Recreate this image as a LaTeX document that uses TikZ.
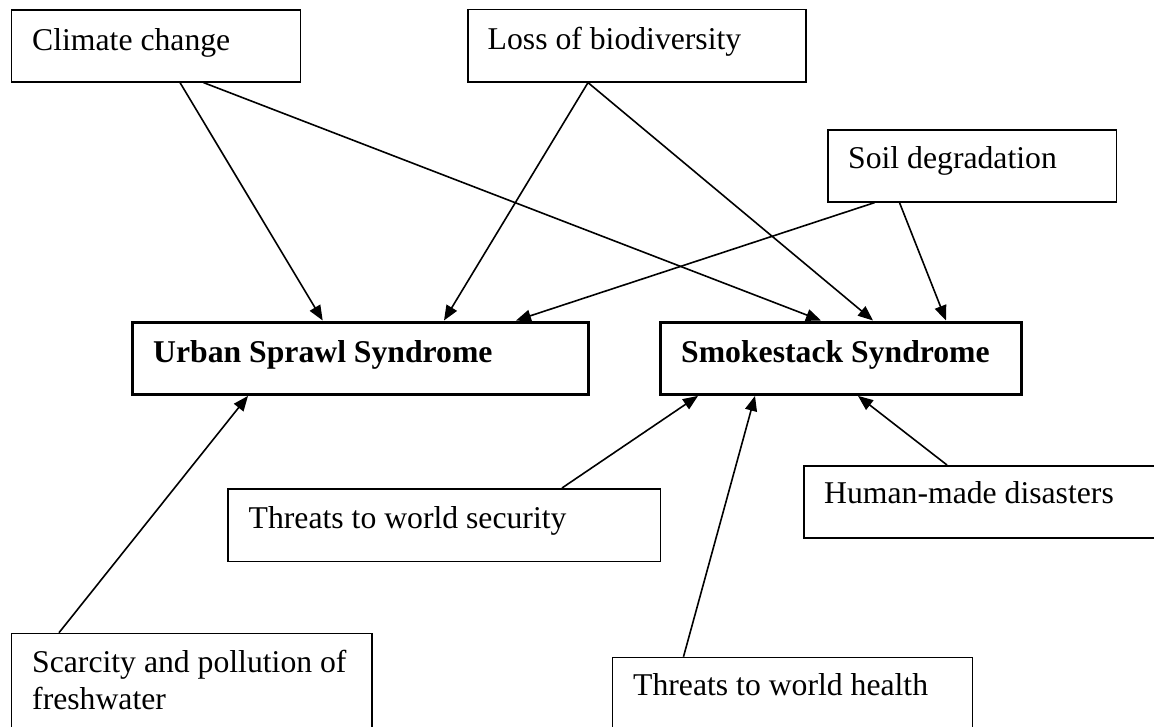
\documentclass[tikz,border=0pt]{standalone}
\usepackage{fontspec}
\setmainfont{Liberation Serif}
\usetikzlibrary{arrows.meta}
\begin{document}
\begin{tikzpicture}[x=1pt,y=-1pt,
  box/.style={draw,rectangle,line width=1.6pt,inner sep=0pt,anchor=north west},
  bigbox/.style={box,line width=3.4pt},
  lbl/.style={anchor=base west,inner sep=0pt,font=\fontsize{31.7}{36.3}\selectfont,align=left},
  blbl/.style={lbl,font=\fontsize{31.7}{36.3}\selectfont\bfseries},
  arr/.style={line width=1.6pt,-{Triangle[length=15pt,width=12pt]}}]
\clip (0,0) rectangle (1154,726);
\fill[white] (0,0) rectangle (1154,726);
% boxes
\node[box,minimum width=289pt,minimum height=72pt] (cc) at (10.5,9) {};
\node[box,minimum width=338pt,minimum height=72.5pt] (loss) at (467,8.5) {};
\node[box,minimum width=288.5pt,minimum height=72pt] (soil) at (827,129) {};
\node[bigbox,minimum width=456pt,minimum height=72pt] (urban) at (131,320.5) {};
\node[bigbox,minimum width=360.5pt,minimum height=72pt] (smoke) at (659,320.5) {};
\node[box,minimum width=432.5pt,minimum height=72.5pt] (sec) at (227,488) {};
\node[box,minimum width=400pt,minimum height=72pt] (human) at (803,465) {};
\node[box,minimum width=360pt,minimum height=90pt] (health) at (611.5,656.7) {};
\node[box,minimum width=360.5pt,minimum height=120pt] (scar) at (10.5,632.7) {};
% labels
\node[lbl] (tcc) at ([xshift=21.5pt,yshift=-41pt]cc.north west) {Climate change};
\node[lbl] (tloss) at ([xshift=20.5pt,yshift=-41pt]loss.north west) {Loss of biodiversity};
\node[lbl] (tsoil) at ([xshift=21pt,yshift=-39.5pt]soil.north west) {Soil degradation};
\node[blbl] (turban) at ([xshift=22pt,yshift=-41.5pt]urban.north west) {Urban Sprawl Syndrome};
\node[blbl] (tsmoke) at ([xshift=22pt,yshift=-41.5pt]smoke.north west) {Smokestack Syndrome};
\node[lbl] (tsec) at ([xshift=21.5pt,yshift=-40pt]sec.north west) {Threats to world security};
\node[lbl] (thuman) at ([xshift=21pt,yshift=-38.5pt]human.north west) {Human-made disasters};
\node[lbl] (thealth) at ([xshift=21.5pt,yshift=-38.5pt]health.north west) {Threats to world health};
\node[lbl] (tscar) at ([xshift=21.5pt,yshift=-76.3pt]scar.north west) {Scarcity and pollution of\\freshwater};
% connectors
\draw[arr] ([xshift=169.5pt]cc.south west) -- ([xshift=191.7pt]urban.north west);
\draw[arr] ([xshift=193pt]cc.south west) -- ([xshift=162pt]smoke.north west);
\draw[arr] ([xshift=121pt]loss.south west) -- ([xshift=313pt]urban.north west);
\draw[arr] ([xshift=121pt]loss.south west) -- ([xshift=214pt]smoke.north west);
\draw[arr] ([xshift=47.6pt]soil.south west) -- ([xshift=385pt]urban.north west);
\draw[arr] ([xshift=72.5pt]soil.south west) -- ([xshift=287pt]smoke.north west);
\draw[arr] ([xshift=335pt]sec.north west) -- ([xshift=39pt]smoke.south west);
\draw[arr] ([xshift=72pt]health.north west) -- ([xshift=96pt]smoke.south west);
\draw[arr] ([xshift=144pt]human.north west) -- ([xshift=199pt]smoke.south west);
\draw[arr] ([xshift=48.5pt]scar.north west) -- ([xshift=117pt]urban.south west);
\end{tikzpicture}
\end{document}
